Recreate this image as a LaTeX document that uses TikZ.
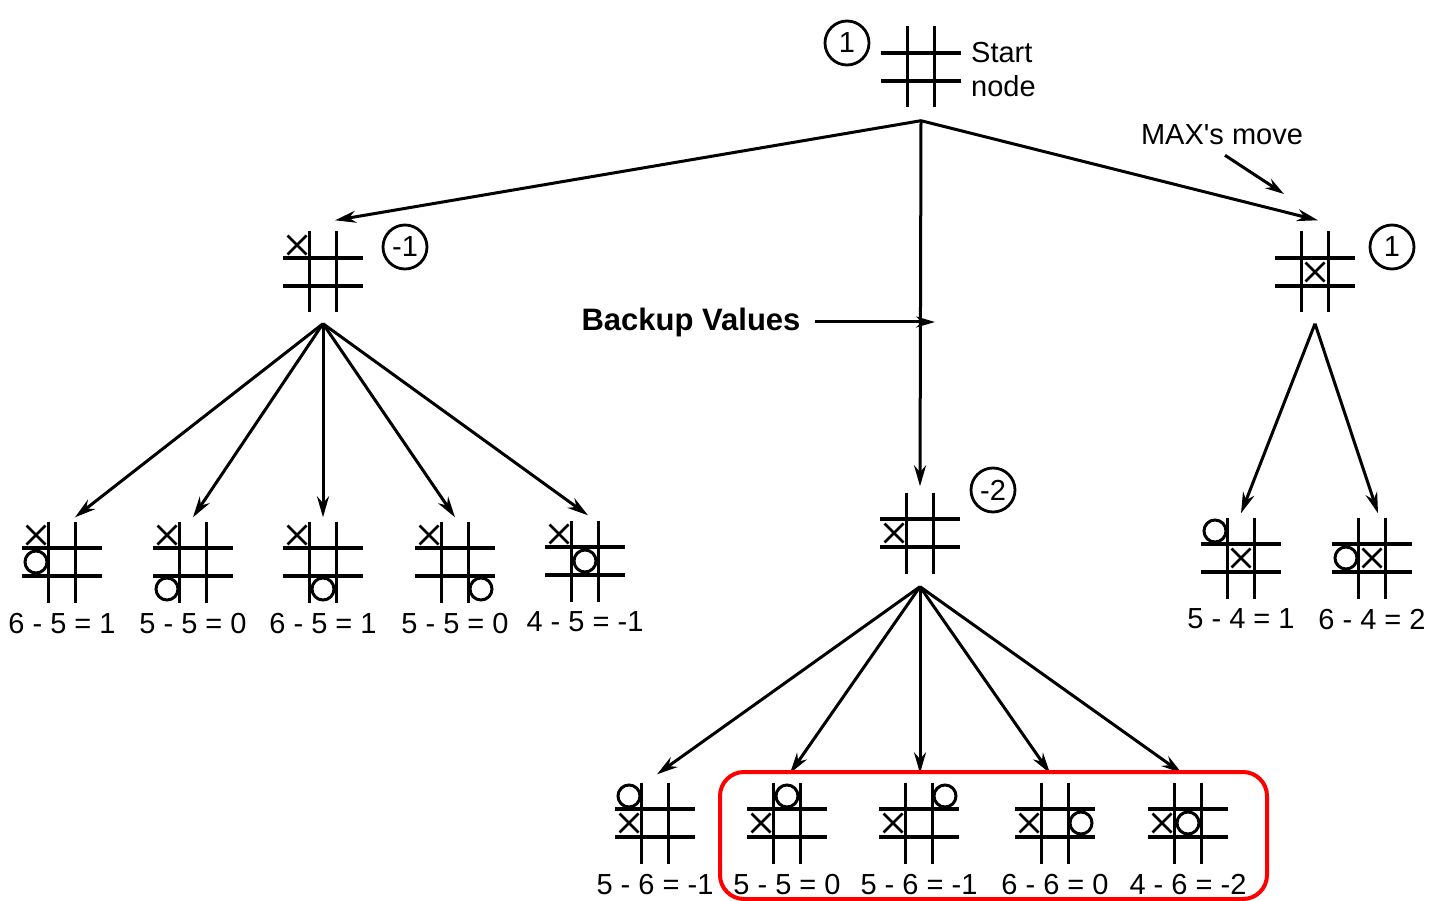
\documentclass[tikz,border=0pt]{standalone}
\usepackage{fontspec}
\setmainfont{Liberation Sans}[Ligatures=TeXOff]
\usetikzlibrary{arrows.meta,positioning}

\tikzset{
  every node/.style={font=\fontsize{29}{34}\selectfont},
  gridline/.style={line width=3.4pt},
  board/.style={minimum width=80pt, minimum height=81pt, inner sep=0pt,
    path picture={
      \draw[gridline] ([xshift=-13.5pt]path picture bounding box.north) -- ([xshift=-13.5pt]path picture bounding box.south);
      \draw[gridline] ([xshift=13.5pt]path picture bounding box.north) -- ([xshift=13.5pt]path picture bounding box.south);
      \draw[gridline] ([yshift=14pt]path picture bounding box.west) -- ([yshift=14pt]path picture bounding box.east);
      \draw[gridline] ([yshift=-14pt]path picture bounding box.west) -- ([yshift=-14pt]path picture bounding box.east);
    }},
  value/.style={circle, draw, line width=2.8pt, minimum size=44pt, inner sep=0pt},
  score/.style={inner sep=0pt},
  xmark/.style={line width=2.5pt},
  omark/.style={line width=3pt},
  arr/.style={-{Stealth[length=21pt,width=12pt]}, line width=3pt}
}

% marks in a cell: node, column (-1..1), row (-1..1)
\newcommand{\putX}[3]{\draw[xmark, shift={(#1)}] (#2*26-9.5,#3*27-9.5) -- ++(19,19) (#2*26+9.5,#3*27-9.5) -- ++(-19,19);}
\newcommand{\putO}[3]{\draw[omark, shift={(#1)}] (#2*26,#3*27) circle[radius=11];}

\begin{document}
\begin{tikzpicture}[x=1pt,y=-1pt]
\fill[white] (0,0) rectangle (1441,901);
\useasboundingbox (0,0) rectangle (1441,901);

% start node
\node[board] (root) at (921,67) {};
\node[value] (vroot) at (847,43) {1};
\node[anchor=west, align=left, inner sep=0pt] (start) at (971,70) {Start\\node};

% first level
\node[board] (c1) at (323,272) {};
\node[board] (c2) at (920,533) {};
\node[board] (c3) at (1315,272) {};
\node[value] (v1) at (405,247) {-1};
\node[value] (v2) at (993,490) {-2};
\node[value] (v3) at (1392,247) {1};
\putX{c1}{-1}{-1}
\putX{c2}{-1}{0}
\putX{c3}{0}{0}

% leaves under c1
\node[board] (l1) at (62,562) {};
\node[board] (l2) at (193,562) {};
\node[board] (l3) at (323,562) {};
\node[board] (l4) at (455,562) {};
\node[board] (l5) at (585,561) {};
\node[score, below=10pt of l1] (s1) {6 - 5 = 1};
\node[score, below=10pt of l2] (s2) {5 - 5 = 0};
\node[score, below=10pt of l3] (s3) {6 - 5 = 1};
\node[score, below=10pt of l4] (s4) {5 - 5 = 0};
\node[score, below=10pt of l5] (s5) {4 - 5 = -1};
\putX{l1}{-1}{-1} \putO{l1}{-1}{0}
\putX{l2}{-1}{-1} \putO{l2}{-1}{1}
\putX{l3}{-1}{-1} \putO{l3}{0}{1}
\putX{l4}{-1}{-1} \putO{l4}{1}{1}
\putX{l5}{-1}{-1} \putO{l5}{0}{0}

% leaves under c2
\node[board] (m1) at (655,823) {};
\node[board] (m2) at (787,823) {};
\node[board] (m3) at (919,823) {};
\node[board] (m4) at (1055,823) {};
\node[board] (m5) at (1188,823) {};
\node[score, below=10pt of m1] (t1) {5 - 6 = -1};
\node[score, below=10pt of m2] (t2) {5 - 5 = 0};
\node[score, below=10pt of m3] (t3) {5 - 6 = -1};
\node[score, below=10pt of m4] (t4) {6 - 6 = 0};
\node[score, below=10pt of m5] (t5) {4 - 6 = -2};
\putX{m1}{-1}{0} \putO{m1}{-1}{-1}
\putX{m2}{-1}{0} \putO{m2}{0}{-1}
\putX{m3}{-1}{0} \putO{m3}{1}{-1}
\putX{m4}{-1}{0} \putO{m4}{1}{0}
\putX{m5}{-1}{0} \putO{m5}{0}{0}

% leaves under c3
\node[board] (r1) at (1241,558) {};
\node[board] (r2) at (1372,558) {};
\node[score, below=10pt of r1] (u1) {5 - 4 = 1};
\node[score, below=10pt of r2] (u2) {6 - 4 = 2};
\putX{r1}{0}{0} \putO{r1}{-1}{-1}
\putX{r2}{0}{0} \putO{r2}{-1}{0}

% edges
\draw[arr] ([yshift=-13pt]root.south) -- ([xshift=12pt,yshift=11pt]c1.north);
\draw[arr] ([yshift=-13pt]root.south) -- ([yshift=6pt]c2.north);
\draw[arr] ([yshift=-13pt]root.south) -- ([xshift=3pt,yshift=11pt]c3.north);

\draw[arr] ([yshift=-11pt]c1.south) -- ([xshift=13pt,yshift=4pt]l1.north);
\draw[arr] ([yshift=-11pt]c1.south) -- ([yshift=4pt]l2.north);
\draw[arr] ([yshift=-11pt]c1.south) -- ([yshift=4pt]l3.north);
\draw[arr] ([yshift=-11pt]c1.south) -- ([yshift=4pt]l4.north);
\draw[arr] ([yshift=-11pt]c1.south) -- ([xshift=3pt,yshift=5pt]l5.north);

\draw[arr] ([yshift=-13pt]c2.south) -- ([xshift=2pt,yshift=8pt]m1.north);
\draw[arr] ([yshift=-13pt]c2.south) -- ([xshift=3pt,yshift=9pt]m2.north);
\draw[arr] ([yshift=-13pt]c2.south) -- ([xshift=1pt,yshift=9pt]m3.north);
\draw[arr] ([yshift=-13pt]c2.south) -- ([xshift=-5pt,yshift=9pt]m4.north);
\draw[arr] ([yshift=-13pt]c2.south) -- ([xshift=-6pt,yshift=9pt]m5.north);

\draw[arr] ([yshift=-11pt]c3.south) -- ([yshift=4pt]r1.north);
\draw[arr] ([yshift=-11pt]c3.south) -- ([xshift=6pt,yshift=4pt]r2.north);

% annotations
\node[font=\fontsize{31}{36}\selectfont\bfseries, inner sep=0pt] (backup) at (691,322) {Backup Values};
\coordinate (bvtip) at (935,322);
\draw[arr, -{Stealth[length=19pt,width=11pt]}] ([xshift=14pt]backup.east) -- (bvtip);

\node[inner sep=0pt] (maxmove) at (1222,135) {MAX's move};
\coordinate (mmtip) at (1284,194);
\draw[arr, -{Stealth[length=19pt,width=11pt]}] ([xshift=3pt,yshift=-10pt]maxmove.south) -- (mmtip);

% highlighted group
\draw[red, line width=4pt, rounded corners=24pt] (720,772) rectangle (1267,899);
\end{tikzpicture}
\end{document}
